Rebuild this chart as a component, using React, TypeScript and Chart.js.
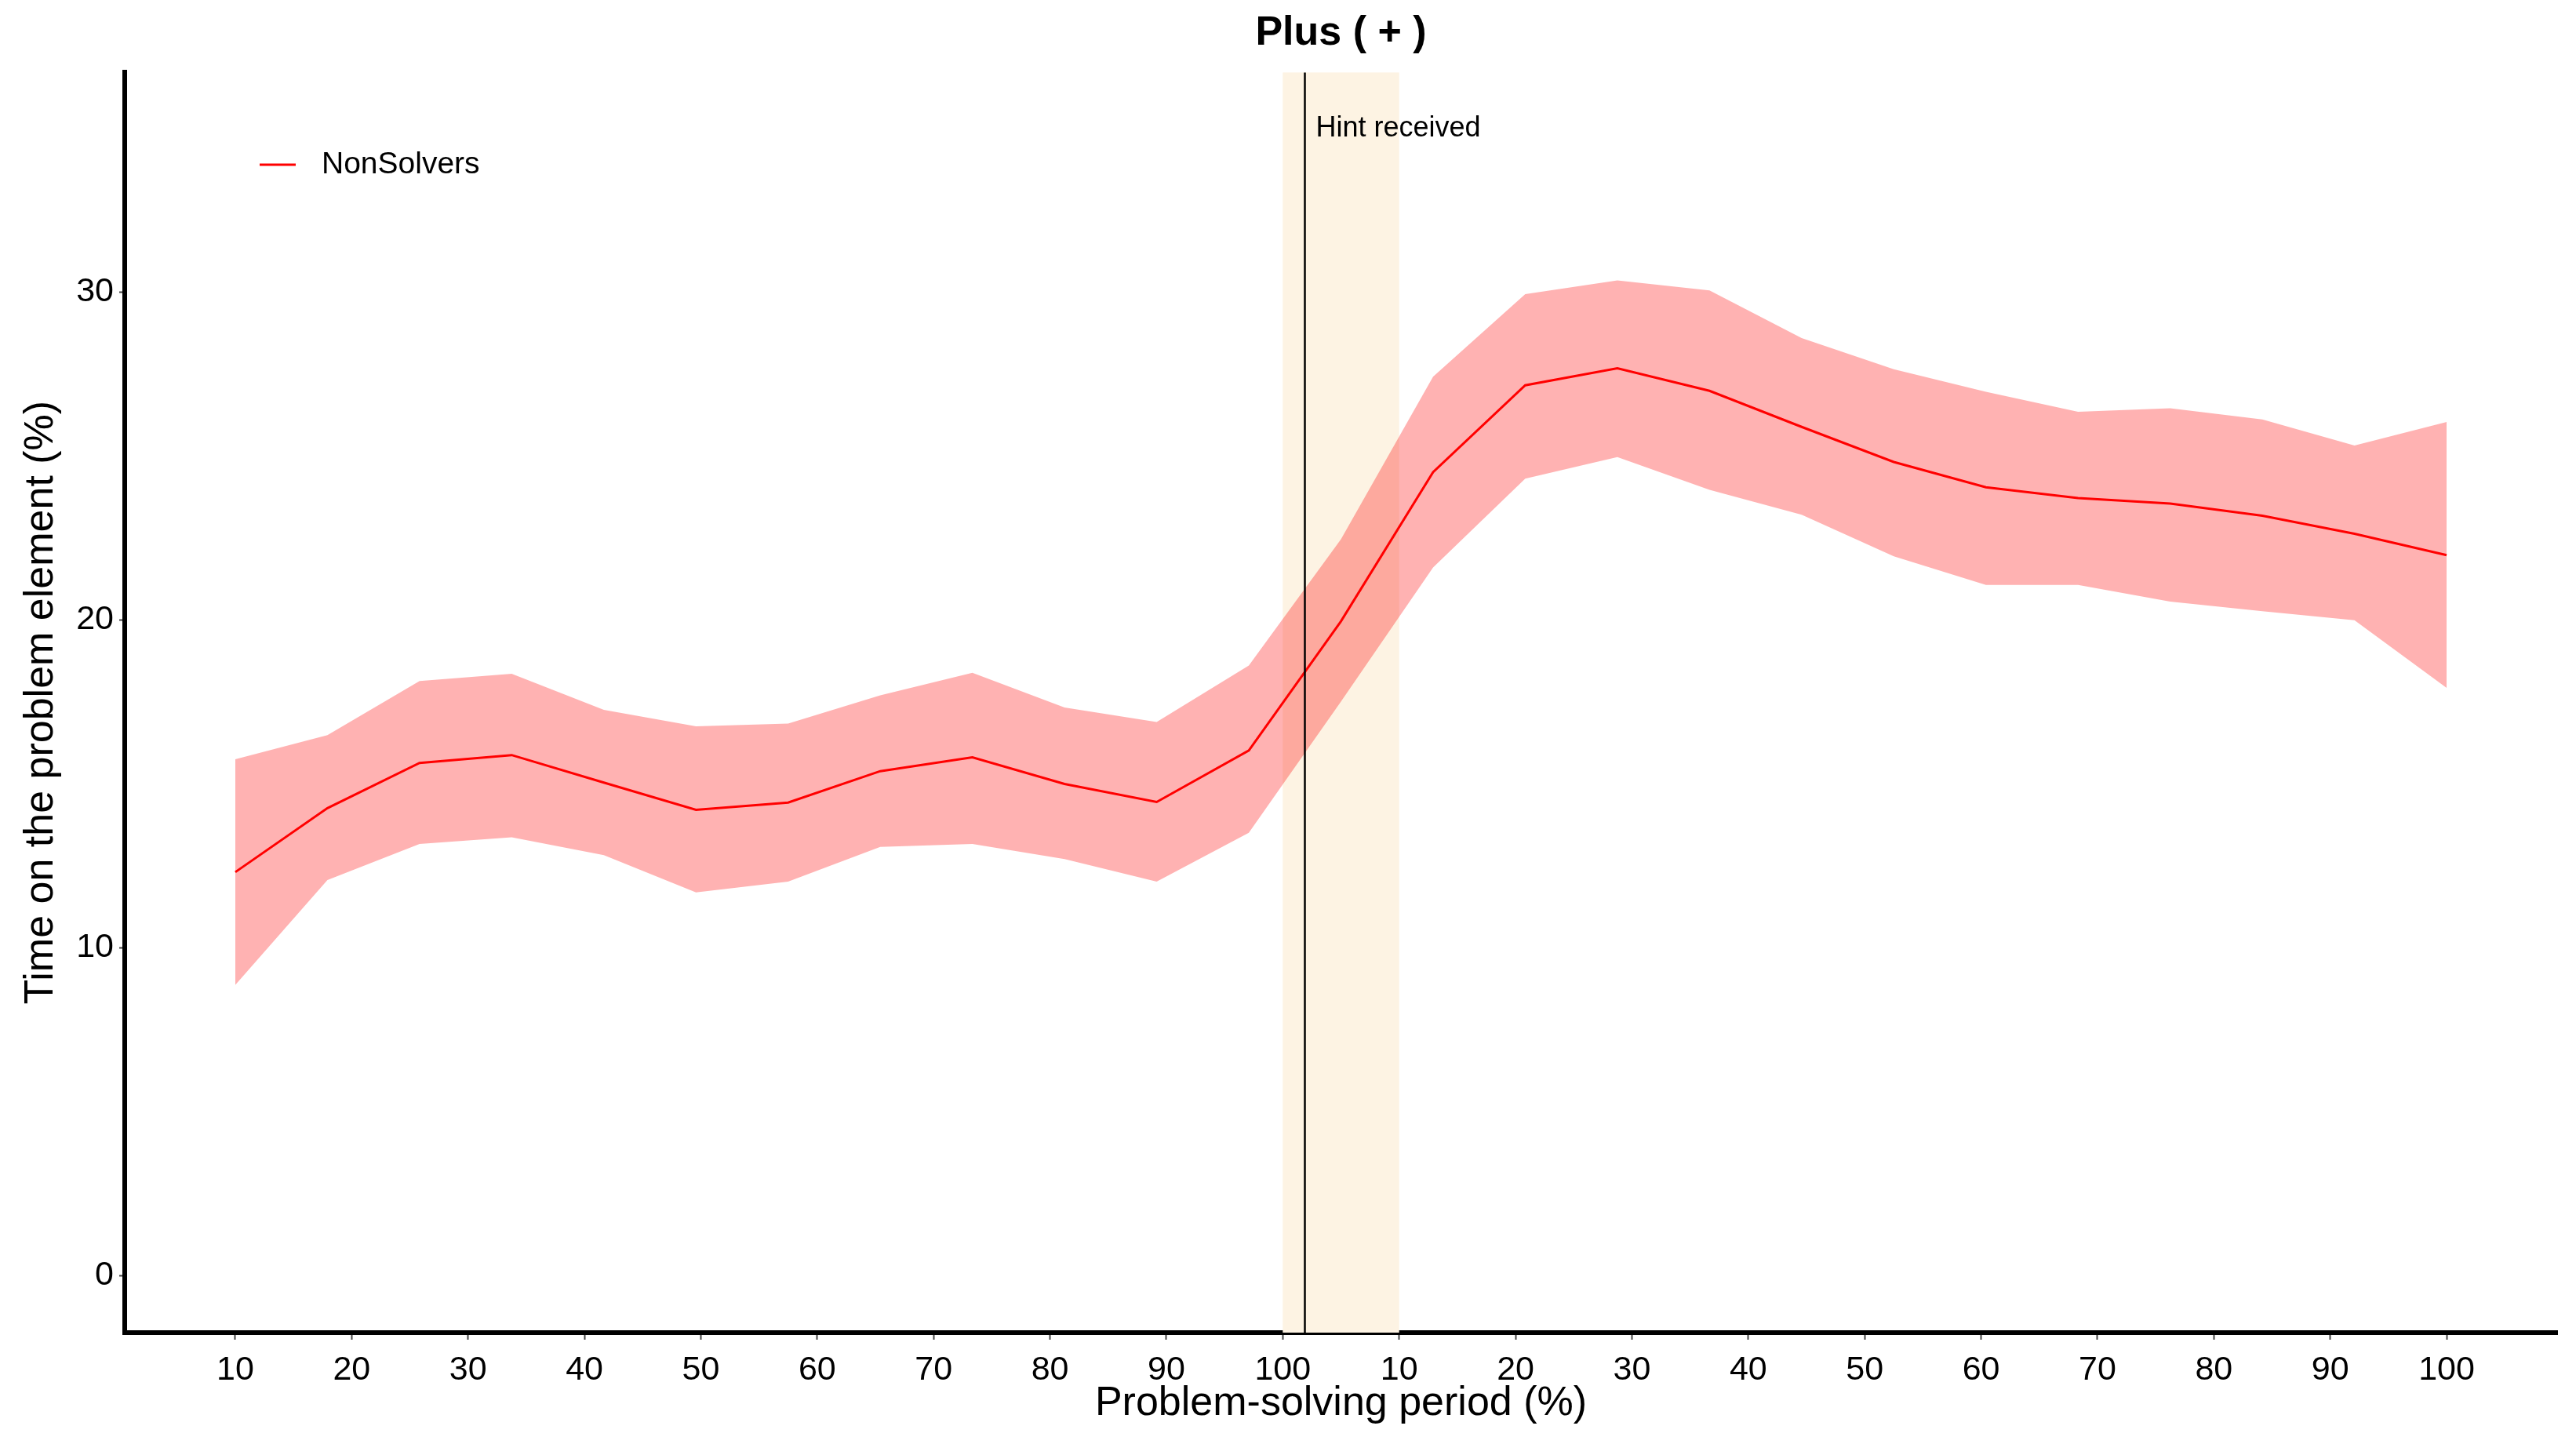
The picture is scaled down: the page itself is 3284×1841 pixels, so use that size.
import React, { useEffect, useRef } from 'react';
import { Chart, registerables } from 'chart.js';

Chart.register(...registerables);

// Tick labels on the x axis (two consecutive problem-solving periods)
const xTickLabels = ['10', '20', '30', '40', '50', '60', '70', '80', '90', '100',
  '10', '20', '30', '40', '50', '60', '70', '80', '90', '100'];

const seriesLabel = 'NonSolvers';
const chartTitle = 'Plus ( + )';
const xTitle = 'Problem-solving period (%)';
const yTitle = 'Time on the problem element (%)';
const hintLabel = 'Hint received';

// Mean and confidence band for NonSolvers (25 evenly spaced samples)
const meanValues = [12.3, 14.25, 15.63, 15.87, 15.03, 14.2, 14.42, 15.38, 15.8, 14.99, 14.44, 16.01,
  19.95, 24.5, 27.15, 27.67, 26.98, 25.88, 24.81, 24.04, 23.71, 23.54, 23.17, 22.62, 21.97];
const upperValues = [15.74, 16.48, 18.13, 18.35, 17.25, 16.75, 16.83, 17.69, 18.38, 17.32, 16.88, 18.6,
  22.45, 27.41, 29.93, 30.35, 30.04, 28.59, 27.64, 26.95, 26.34, 26.45, 26.11, 25.31, 26.03];
const lowerValues = [8.86, 12.06, 13.16, 13.36, 12.82, 11.68, 12.01, 13.07, 13.16, 12.7, 12.01, 13.5,
  17.5, 21.59, 24.3, 24.96, 23.96, 23.2, 21.93, 21.06, 21.06, 20.55, 20.26, 19.98, 17.92];

const yTickValues = [0, 10, 20, 30];

// Hint marker (in x tick units: tick 10 = first "100", tick 11 = second "10")
const hintPosition = 10.19;
const hintBandStart = 10;
const hintBandEnd = 11;

const W = 3284;
const H = 1841;
const FONT = '"Liberation Sans", Arial, Helvetica, sans-serif';

function toPoints(values: number[]) {
  const n = values.length;
  const first = 1;
  const last = xTickLabels.length;
  return values.map((v, i) => ({ x: first + (i * (last - first)) / (n - 1), y: v }));
}

export default function App() {
  const ref = useRef<HTMLCanvasElement>(null);

  useEffect(() => {
    const canvas = ref.current!;

    const overlay = {
      id: 'overlay',
      beforeDatasetsDraw(chart: any) {
        const { ctx, chartArea, scales } = chart;
        const x0 = scales.x.getPixelForValue(hintBandStart);
        const x1 = scales.x.getPixelForValue(hintBandEnd);
        ctx.save();
        ctx.fillStyle = '#FDF3E3';
        ctx.fillRect(x0, chartArea.top, x1 - x0, chartArea.bottom - chartArea.top);
        ctx.restore();
      },
      afterDatasetsDraw(chart: any) {
        const { ctx, chartArea, scales } = chart;
        const xh = scales.x.getPixelForValue(hintPosition);
        ctx.save();
        ctx.strokeStyle = '#000';
        ctx.lineWidth = 2.5;
        ctx.beginPath();
        ctx.moveTo(xh, chartArea.top);
        ctx.lineTo(xh, chartArea.bottom);
        ctx.stroke();
        ctx.fillStyle = '#000';
        ctx.font = `36px ${FONT}`;
        ctx.textAlign = 'left';
        ctx.textBaseline = 'middle';
        ctx.fillText(hintLabel, xh + 14, 164);
        ctx.restore();
      },
      afterDraw(chart: any) {
        const { ctx } = chart;
        ctx.save();
        ctx.strokeStyle = '#FF0000';
        ctx.lineWidth = 3;
        ctx.beginPath();
        ctx.moveTo(331, 210);
        ctx.lineTo(377, 210);
        ctx.stroke();
        ctx.fillStyle = '#000';
        ctx.font = `39px ${FONT}`;
        ctx.textAlign = 'left';
        ctx.textBaseline = 'middle';
        ctx.fillText(chart.data.datasets[0].label, 410, 210);
        ctx.restore();
      },
    };

    const chart = new Chart(canvas, {
      type: 'line',
      data: {
        datasets: [
          {
            label: seriesLabel,
            data: toPoints(meanValues),
            borderColor: '#FF0000',
            borderWidth: 3,
            pointRadius: 0,
            fill: false,
            tension: 0,
          },
          {
            label: 'upper',
            data: toPoints(upperValues),
            borderColor: 'rgba(0,0,0,0)',
            borderWidth: 0,
            pointRadius: 0,
            backgroundColor: 'rgba(255,0,0,0.3)',
            fill: '+1',
            tension: 0,
          },
          {
            label: 'lower',
            data: toPoints(lowerValues),
            borderColor: 'rgba(0,0,0,0)',
            borderWidth: 0,
            pointRadius: 0,
            fill: false,
            tension: 0,
          },
        ],
      },
      options: {
        responsive: false,
        animation: false,
        devicePixelRatio: 1,
        layout: { padding: { left: 0, right: 24, top: 0, bottom: 0 } },
        plugins: {
          legend: { display: false },
          tooltip: { enabled: false },
          title: {
            display: true,
            text: chartTitle,
            fullSize: false,
            color: '#000',
            font: { family: FONT, size: 52, weight: 'bold' },
            padding: { top: 11, bottom: 19 },
          },
        },
        scales: {
          x: {
            type: 'linear',
            min: 0.05,
            max: 20.95,
            afterBuildTicks: (s: any) => {
              s.ticks = xTickLabels.map((_, i) => ({ value: i + 1 }));
            },
            afterFit: (s: any) => {
              s.height = 142;
            },
            ticks: {
              autoSkip: false,
              maxRotation: 0,
              minRotation: 0,
              padding: 13,
              color: '#000',
              font: { family: FONT, size: 43 },
              callback: (_v: any, i: number) => xTickLabels[i],
            },
            grid: {
              drawOnChartArea: false,
              drawTicks: true,
              tickLength: 9,
              tickColor: '#444',
              tickWidth: 2,
            },
            border: { display: true, color: '#000', width: 6 },
            title: {
              display: true,
              text: xTitle,
              color: '#000',
              font: { family: FONT, size: 52 },
              padding: { top: 0, bottom: 20 },
            },
          },
          y: {
            type: 'linear',
            min: -1.746,
            max: 36.69,
            afterBuildTicks: (s: any) => {
              s.ticks = yTickValues.map((v) => ({ value: v }));
            },
            afterFit: (s: any) => {
              s.width = 159;
            },
            ticks: {
              padding: 7,
              color: '#000',
              font: { family: FONT, size: 43 },
              callback: (v: any) => String(v),
            },
            grid: {
              drawOnChartArea: false,
              drawTicks: true,
              tickLength: 7,
              tickColor: '#444',
              tickWidth: 2,
            },
            border: { display: true, color: '#000', width: 6 },
            title: {
              display: true,
              text: yTitle,
              color: '#000',
              font: { family: FONT, size: 52 },
              padding: { top: 21, bottom: 0 },
            },
          },
        },
      },
      plugins: [overlay],
    } as any);

    return () => chart.destroy();
  }, []);

  return (
    <div style={{ position: 'fixed', left: 0, top: 0, width: W, height: H, background: '#fff' }}>
      <canvas ref={ref} width={W} height={H} style={{ width: W, height: H, display: 'block' }} />
    </div>
  );
}
